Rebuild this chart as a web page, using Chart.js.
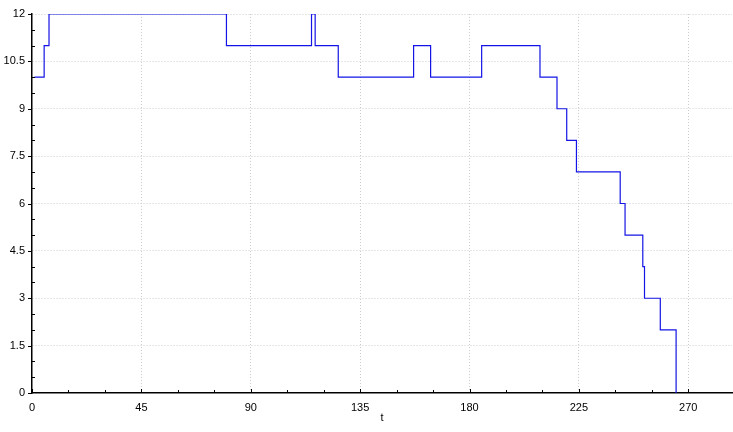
<!DOCTYPE html>
<html>
<head>
<meta charset="utf-8">
<script src="https://cdn.jsdelivr.net/npm/chart.js@4/dist/chart.umd.min.js"></script>
<style>
  html, body { margin: 0; padding: 0; background: #fff; }
  #wrap { width: 733px; height: 432px; }
</style>
</head>
<body>
<div id="wrap"><canvas id="chart" width="733" height="432"></canvas></div>
<script>
// step change points: time t and the new value from that time on
const tValues = [1, 5, 7, 80, 115, 116.5, 126, 157, 164, 185, 209, 216, 220, 224, 242, 244, 251.3, 252, 258.5, 265];
const yValues = [10, 11, 12, 11, 12, 11, 10, 11, 10, 11, 10, 9, 8, 7, 6, 5, 4, 3, 2, 0];

const xMajor = 45, xMinor = 15;
const yMajor = 1.5, yMinor = 0.5;

const isMult = (v, step) => Math.abs(v / step - Math.round(v / step)) < 1e-6;

const points = tValues.map((t, i) => ({ x: t, y: yValues[i] }));

// small tick marks on the axes (major + minor)
const tickMarks = {
    id: 'tickMarks',
    afterDraw(chart) {
        const ctx = chart.ctx;
        const xs = chart.scales.x, ys = chart.scales.y;
        const area = chart.chartArea;
        ctx.save();
        ctx.strokeStyle = '#000';
        ctx.lineWidth = 1;
        ctx.beginPath();
        xs.ticks.forEach(tk => {
            if (!isMult(tk.value, xMinor)) return;
            const px = Math.round(xs.getPixelForValue(tk.value)) + 0.5;
            const len = isMult(tk.value, xMajor) ? 4 : 3;
            ctx.moveTo(px, area.bottom);
            ctx.lineTo(px, area.bottom - len);
        });
        ys.ticks.forEach(tk => {
            if (!isMult(tk.value, yMinor)) return;
            const py = Math.round(ys.getPixelForValue(tk.value)) + 0.5;
            if (isMult(tk.value, yMajor)) {
                ctx.moveTo(area.left - 4, py);
                ctx.lineTo(area.left, py);
            } else {
                ctx.moveTo(area.left, py);
                ctx.lineTo(area.left + 3, py);
            }
        });
        ctx.stroke();
        ctx.restore();
    }
};

const font = { family: 'Liberation Sans', size: 11 };
const gridGray = '#cccccc';

new Chart(document.getElementById('chart'), {
    type: 'line',
    data: {
        datasets: [{
            data: points,
            stepped: 'before',
            borderColor: '#1414e6',
            borderWidth: 1.2,
            pointRadius: 0,
            fill: false
        }]
    },
    options: {
        responsive: false,
        animation: false,
        layout: { padding: { top: 14, right: 1, left: 0, bottom: 0 } },
        plugins: { legend: { display: false }, tooltip: { enabled: false } },
        scales: {
            x: {
                type: 'linear',
                min: 0,
                max: 288,
                afterFit(scale) {
                    scale.height = 39;
                    scale.paddingLeft = 0;
                    scale.paddingRight = 0;
                },
                ticks: {
                    stepSize: xMinor,
                    autoSkip: false,
                    maxRotation: 0,
                    padding: 8,
                    color: '#000',
                    font: font,
                    callback: v => isMult(v, xMajor) ? String(v) : ''
                },
                grid: {
                    drawTicks: false,
                    color: c => (c.tick && isMult(c.tick.value, xMajor) && c.tick.value > 0) ? gridGray : 'rgba(0,0,0,0)',
                    lineWidth: 1
                },
                border: { display: true, color: '#000', width: 1.5, dash: [1, 2] },
                title: {
                    display: true,
                    text: 't',
                    color: '#000',
                    font: font,
                    padding: { top: 0, bottom: 7 }
                }
            },
            y: {
                min: 0,
                max: 12,
                afterFit(scale) {
                    scale.width = 32;
                    scale.paddingTop = 0;
                    scale.paddingBottom = 0;
                },
                ticks: {
                    stepSize: yMinor,
                    autoSkip: false,
                    padding: 7,
                    color: '#000',
                    font: font,
                    callback: v => isMult(v, yMajor) ? String(v) : ''
                },
                grid: {
                    drawTicks: false,
                    color: c => (c.tick && isMult(c.tick.value, yMajor) && c.tick.value > 0) ? gridGray : 'rgba(0,0,0,0)',
                    lineWidth: 1
                },
                border: { display: true, color: '#000', width: 1.5, dash: [1, 2] }
            }
        }
    },
    plugins: [tickMarks]
});
</script>
</body>
</html>
